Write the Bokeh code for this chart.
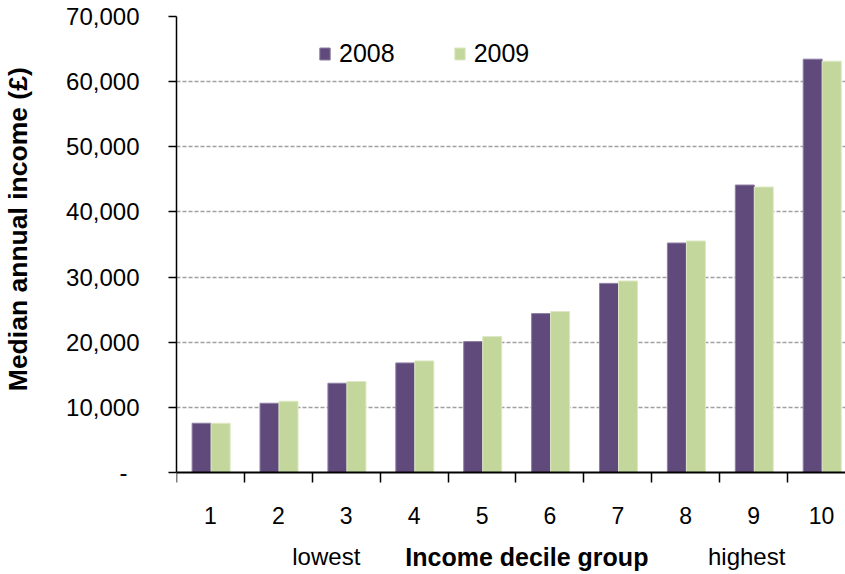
from bokeh.plotting import figure
from bokeh.models import (Range1d, FixedTicker, Legend, LegendItem, Label,
                          ColumnDataSource)
from bokeh.transform import dodge
from bokeh.embed import file_html
from bokeh.resources import INLINE

deciles = [1, 2, 3, 4, 5, 6, 7, 8, 9, 10]
income_2008 = [7560, 10630, 13700, 16820, 20100, 24400, 29030, 35230, 44130, 63450]
income_2009 = [7560, 10940, 13960, 17130, 20860, 24700, 29400, 35540, 43820, 63140]
y_ticks = [0, 10000, 20000, 30000, 40000, 50000, 60000, 70000]
y_tick_labels = ["-\u2002", "10,000", "20,000", "30,000", "40,000", "50,000", "60,000", "70,000"]

src = ColumnDataSource(dict(x=deciles, y8=income_2008, y9=income_2009))

FONT = "Liberation Sans"
PURPLE = "#604A7B"
GREEN = "#C3D69B"

W, H = 845, 574
LEFT, TOP = 175, 16
ZERO_PX = 472          # page row of the zero line
YMAX = 70000
px_per_unit = (ZERO_PX - TOP) / YMAX
y_min = -(H - ZERO_PX) / px_per_unit

p = figure(width=W, height=H, output_backend="svg", toolbar_location=None,
           x_range=Range1d(0.5, 0.5 + (W - LEFT) / 68), y_range=Range1d(y_min, YMAX),
           min_border_left=LEFT, min_border_right=0, min_border_top=TOP,
           min_border_bottom=0)
p.outline_line_color = None

r8 = p.vbar(x=dodge("x", -0.13, range=p.x_range), top="y8", bottom=0, width=0.28,
            source=src, fill_color=PURPLE, line_color="#8E7FA3", line_width=1)
r9 = p.vbar(x=dodge("x", 0.15, range=p.x_range), top="y9", bottom=0, width=0.28,
            source=src, fill_color=GREEN, line_color="#DDE9C4", line_width=1)

# x axis, pinned at zero inside the frame
xa = p.xaxis[0]
xa.fixed_location = 0
xa.ticker = FixedTicker(ticks=deciles, minor_ticks=[d - 0.5 for d in deciles] + [10.5])
xa.major_tick_out = 0
xa.major_tick_in = 0
xa.minor_tick_out = 10
xa.minor_tick_in = 0
xa.minor_tick_line_color = "black"
xa.minor_tick_line_width = 1.5
xa.axis_line_color = "black"
xa.axis_line_width = 2
xa.major_label_text_font = FONT
xa.major_label_text_font_size = "23px"
xa.major_label_text_color = "black"
xa.major_label_standoff = 24

# y axis
ya = p.yaxis[0]
ya.ticker = FixedTicker(ticks=y_ticks)
ya.bounds = (0, YMAX)
ya.major_label_overrides = {t: l for t, l in zip(y_ticks, y_tick_labels)}
ya.major_tick_out = 8
ya.major_tick_in = 0
ya.major_tick_line_width = 1.5
ya.minor_tick_out = 0
ya.minor_tick_in = 0
ya.axis_line_color = "black"
ya.axis_line_width = 1.5
ya.major_label_text_font = FONT
ya.major_label_text_font_size = "24px"
ya.major_label_text_color = "black"
ya.major_label_standoff = 29
# leading no-break spaces lift the centred title to match the original
ya.axis_label = "\u00a0" * 18 + "Median annual income (£)"
ya.axis_label_text_font = FONT
ya.axis_label_text_font_size = "26.5px"
ya.axis_label_text_font_style = "bold"
ya.axis_label_text_color = "black"
ya.axis_label_standoff = 30

p.xgrid.grid_line_color = None
p.ygrid.ticker = FixedTicker(ticks=y_ticks[1:])
p.ygrid.grid_line_color = "#A0A0A0"
p.ygrid.grid_line_dash = "4 2"
p.ygrid.grid_line_width = 1.3

legend = Legend(items=[LegendItem(label="2008", renderers=[r8]),
                       LegendItem(label="2009", renderers=[r9])],
                location=(142, H - 68), orientation="horizontal",
                glyph_width=13, glyph_height=15, label_standoff=8, spacing=58,
                padding=0, margin=0, border_line_color=None,
                background_fill_alpha=0,
                label_text_font=FONT, label_text_font_size="25px",
                label_text_color="black")
p.add_layout(legend)

for txt, xv, style, size in [("lowest", 2.706, "normal", "24px"),
                             ("Income decile group", 5.66, "bold", "25px"),
                             ("highest", 8.897, "normal", "24px")]:
    p.add_layout(Label(x=xv, y=H - 556, x_units="data", y_units="screen", text=txt,
                       text_align="center", text_baseline="alphabetic",
                       text_font=FONT, text_font_size=size, text_font_style=style,
                       text_color="black"))

open("out.html", "w").write(file_html(p, INLINE))
